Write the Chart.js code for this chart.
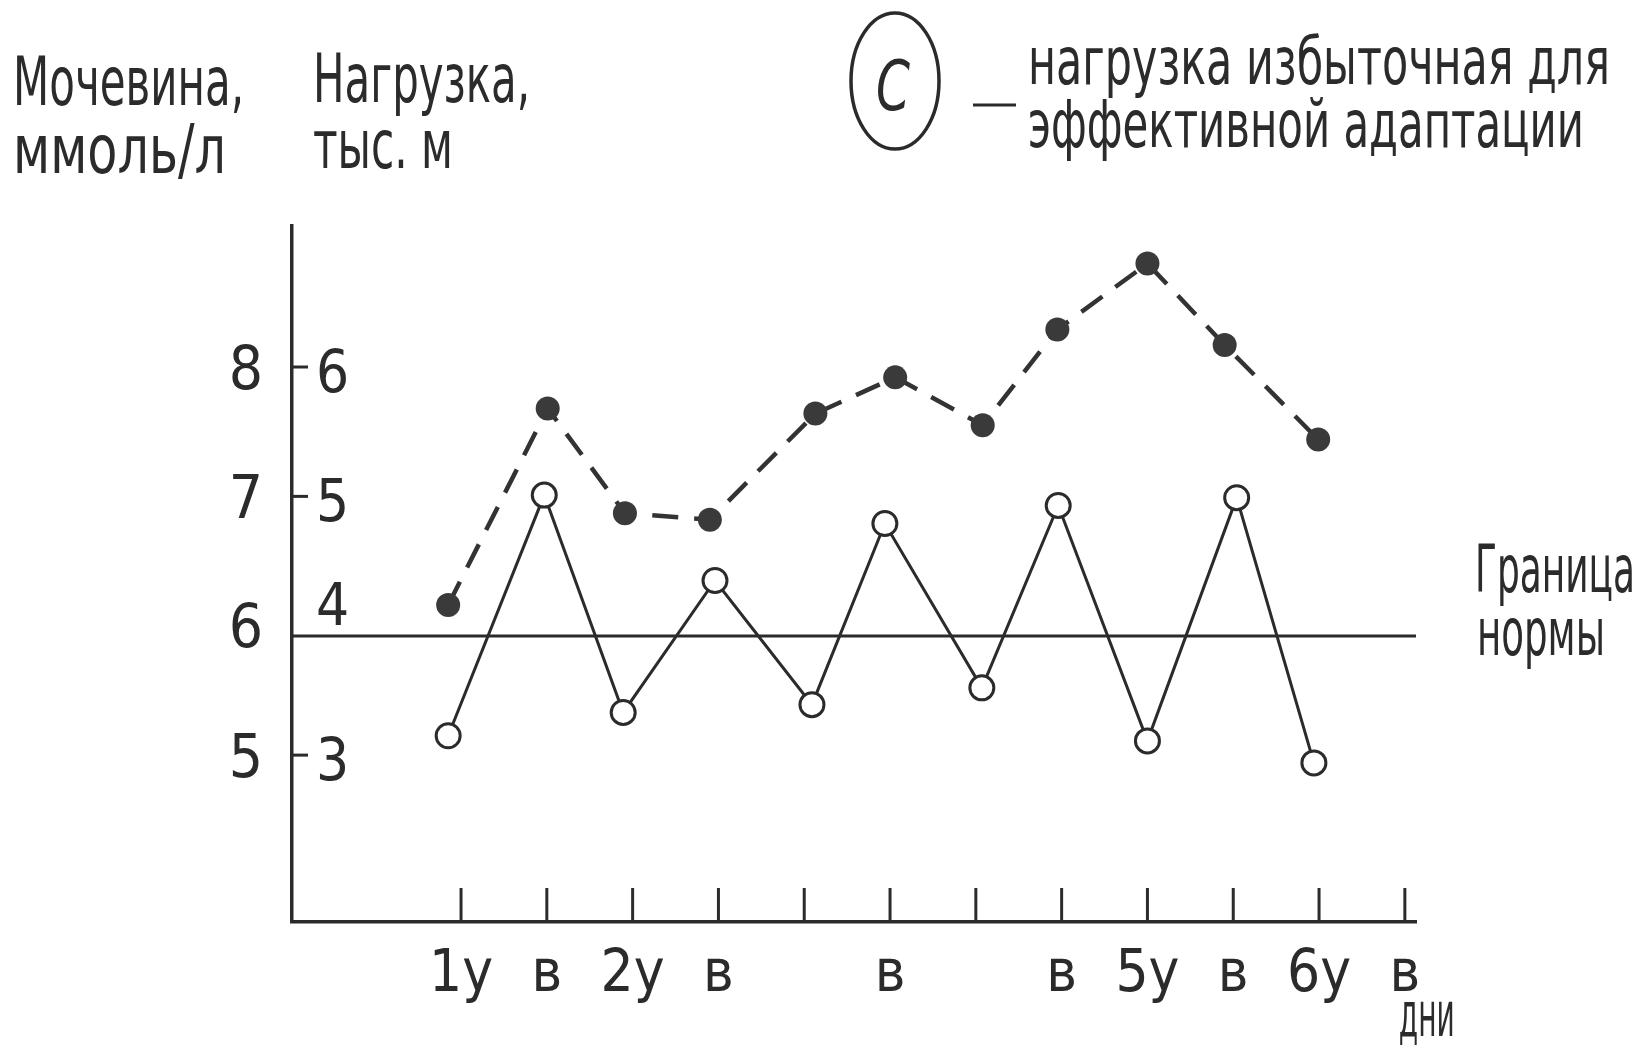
<!DOCTYPE html>
<html>
<head>
<meta charset="utf-8">
<script src="https://cdn.jsdelivr.net/npm/chart.js@4.4.1/dist/chart.umd.min.js"></script>
<style>
  html, body { margin: 0; padding: 0; background: #fff; }
  #wrap { width: 1645px; height: 1051px; position: relative; }
</style>
</head>
<body>
<div id="wrap"><canvas id="chart"></canvas></div>
<script>
// days on the x axis (у = training day, в = rest day)
const dayTicks = [1, 2, 3, 4, 5, 6, 7, 8, 9, 10, 11, 12];
const dayLabels = ['1у', 'в', '2у', 'в', '', 'в', '', 'в', '5у', 'в', '6у', 'в'];

// urea, mmol/l (open circles, solid line)
const ureaX = [0.85, 1.97, 2.89, 3.96, 5.09, 5.94, 7.07, 7.96, 9.0, 10.04, 10.94];
const ureaValues = [5.15, 7.01, 5.33, 6.35, 5.39, 6.79, 5.52, 6.93, 5.11, 6.99, 4.94];

// load, thousand m (filled dots, dashed line)
const loadX = [0.85, 2.01, 2.91, 3.9, 5.13, 6.06, 7.08, 7.95, 9.0, 9.9, 10.99];
const loadValues = [4.16, 5.68, 4.87, 4.82, 5.64, 5.92, 5.55, 6.29, 6.8, 6.17, 5.44];

// axis ticks
const ureaTicks = [5, 6, 7, 8];
const loadTicks = [6, 5, 4, 3];
const loadDashTicks = [6, 5, 3];

// axis ranges (both y scales share the same pixel scale, load = urea - 2)
const xRange = [-0.97, 12.13];
const ureaRange = [3.71, 9.09];
const loadRange = [1.71, 7.09];

// norm boundary (urea)
const normValue = 5.92;

const INK = '#2b2b2b';
const FONT = "'Liberation Sans Narrow', 'DejaVu Sans Condensed', 'Liberation Sans', sans-serif";

// draw a text stretched to a given width
function fitText(ctx, text, x, y, size, width, style) {
  ctx.font = (style || '') + ' ' + size + 'px ' + FONT;
  const w = ctx.measureText(text).width;
  ctx.save();
  ctx.translate(x, y);
  ctx.scale(width / w, 1);
  ctx.textAlign = 'left';
  ctx.textBaseline = 'alphabetic';
  ctx.fillText(text, 0, 0);
  ctx.restore();
}

const extras = {
  id: 'extras',
  afterDraw(chart) {
    const ctx = chart.ctx;
    const x = chart.scales.x;
    const y2 = chart.scales.y2;
    const left = chart.chartArea.left;
    ctx.save();
    ctx.strokeStyle = INK;
    ctx.fillStyle = INK;
    ctx.lineWidth = 3;

    // tick marks pointing up from the x axis
    dayTicks.forEach(function (v) {
      const px = x.getPixelForValue(v);
      ctx.beginPath();
      ctx.moveTo(px, x.top);
      ctx.lineTo(px, x.top - 34);
      ctx.stroke();
    });

    // load scale: short dashes and labels right of the y axis
    loadDashTicks.forEach(function (v) {
      const py = y2.getPixelForValue(v);
      ctx.beginPath();
      ctx.moveTo(left, py);
      ctx.lineTo(left + 16, py);
      ctx.stroke();
    });
    const normY = chart.scales.y.getPixelForValue(normValue);
    ctx.font = '58px ' + FONT;
    ctx.textAlign = 'left';
    ctx.textBaseline = 'middle';
    loadTicks.forEach(function (v) {
      let py = y2.getPixelForValue(v);
      if (Math.abs(py - normY) < 20) py = normY - 36;
      ctx.fillText(String(v), left + 24, py + 10);
    });

    // unit under the last day label
    fitText(ctx, 'дни', x.getPixelForValue(12) - 6, 1036, 62, 56);

    // axis titles
    fitText(ctx, 'Мочевина,', 13, 105, 68, 231);
    fitText(ctx, 'ммоль/л', 13, 173, 68, 213);
    fitText(ctx, 'Нагрузка,', 313, 102, 68, 217);
    fitText(ctx, 'тыс. м', 313, 168, 68, 140);

    // panel mark and caption
    ctx.lineWidth = 3.5;
    ctx.beginPath();
    ctx.ellipse(895, 81, 44, 68, 0, 0, Math.PI * 2);
    ctx.stroke();
    fitText(ctx, 'С', 876, 110, 70, 34, 'italic');
    ctx.lineWidth = 3;
    ctx.beginPath();
    ctx.moveTo(973, 105);
    ctx.lineTo(1016, 105);
    ctx.stroke();
    fitText(ctx, 'нагрузка избыточная для', 1028, 84, 66, 582);
    fitText(ctx, 'эффективной адаптации', 1028, 147, 66, 556);

    // norm line caption
    fitText(ctx, 'Граница', 1475, 592, 66, 160);
    fitText(ctx, 'нормы', 1477, 655, 66, 128);
    ctx.restore();
  }
};

const ctx = document.getElementById('chart').getContext('2d');
const chart = new Chart(ctx, {
  type: 'line',
  data: {
    datasets: [
      {
        label: 'Мочевина',
        data: ureaX.map((v, i) => ({ x: v, y: ureaValues[i] })),
        yAxisID: 'y',
        borderColor: INK,
        borderWidth: 3,
        pointRadius: 12,
        pointBorderWidth: 3,
        pointBackgroundColor: '#fff',
        pointBorderColor: INK,
        tension: 0,
        order: 1
      },
      {
        label: 'Нагрузка',
        data: loadX.map((v, i) => ({ x: v, y: loadValues[i] })),
        yAxisID: 'y2',
        borderColor: '#333',
        borderWidth: 4.5,
        borderDash: [26, 16],
        pointRadius: 12,
        pointBorderWidth: 0,
        pointBackgroundColor: '#3a3a3a',
        tension: 0,
        order: 2
      },
      {
        label: 'Граница нормы',
        data: [{ x: xRange[0], y: normValue }, { x: xRange[1], y: normValue }],
        yAxisID: 'y',
        borderColor: INK,
        borderWidth: 3,
        pointRadius: 0,
        order: 3
      }
    ]
  },
  options: {
    responsive: true,
    maintainAspectRatio: false,
    animation: false,
    events: [],
    layout: {
      autoPadding: false,
      padding: { left: 212, right: 229, top: 226, bottom: 29 }
    },
    plugins: {
      legend: { display: false },
      tooltip: { enabled: false }
    },
    scales: {
      x: {
        type: 'linear',
        position: 'bottom',
        min: xRange[0],
        max: xRange[1],
        afterBuildTicks: s => { s.ticks = dayTicks.map(v => ({ value: v })); },
        afterFit: s => { s.height = 100; },
        grid: { display: false, drawTicks: false },
        border: { display: true, color: INK, width: 3.5 },
        ticks: {
          autoSkip: false,
          maxRotation: 0,
          minRotation: 0,
          padding: 25,
          color: INK,
          font: { family: FONT, size: 58, lineHeight: 1 },
          callback: (v, i) => dayLabels[i]
        }
      },
      y: {
        position: 'left',
        min: ureaRange[0],
        max: ureaRange[1],
        afterBuildTicks: s => { s.ticks = ureaTicks.map(v => ({ value: v })); },
        afterFit: s => { s.width = 80; },
        grid: { display: false, drawTicks: false },
        border: { display: true, color: INK, width: 3.5 },
        ticks: {
          padding: 29,
          labelOffset: 6,
          color: INK,
          font: { family: FONT, size: 60, lineHeight: 1 },
          callback: v => String(v)
        }
      },
      y2: {
        display: false,
        min: loadRange[0],
        max: loadRange[1]
      }
    }
  },
  plugins: [extras]
});
</script>
</body>
</html>
